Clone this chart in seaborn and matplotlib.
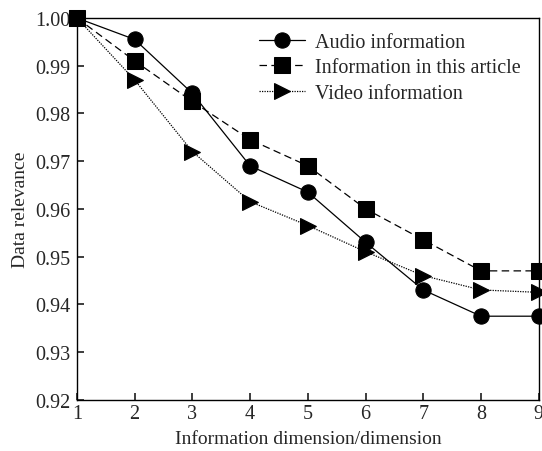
import pandas as pd
import matplotlib.pyplot as plt
import seaborn as sns

sns.set_theme(style="ticks")
plt.rcParams['font.family'] = ['Liberation Serif', 'DejaVu Serif']

# Data
dims = [1, 2, 3, 4, 5, 6, 7, 8, 9]
audio = [1.000, 0.9955, 0.9842, 0.969, 0.9635, 0.953, 0.943, 0.9375, 0.9375]
article = [1.000, 0.991, 0.9825, 0.9745, 0.969, 0.960, 0.9535, 0.947, 0.947]
video = [1.000, 0.987, 0.972, 0.9615, 0.9565, 0.951, 0.946, 0.943, 0.9425]
names = ['Audio information', 'Information in this article', 'Video information']
yticks = [0.92, 0.93, 0.94, 0.95, 0.96, 0.97, 0.98, 0.99, 1.00]

df = pd.DataFrame({
    'dim': dims * 3,
    'rel': audio + article + video,
    'series': [names[0]] * 9 + [names[1]] * 9 + [names[2]] * 9,
})

fig = plt.figure(figsize=(5.42, 4.52), dpi=100)
ax = fig.add_axes([0.142, 0.1135, 0.852, 0.8445])

sns.lineplot(data=df, x='dim', y='rel', hue='series', style='series',
             palette=['black'] * 3,
             markers={names[0]: 'o', names[1]: 's', names[2]: '>'},
             dashes={names[0]: '', names[1]: (6, 3.5), names[2]: (1, 1)},
             markersize=11, linewidth=0.9, markeredgecolor='black',
             clip_on=False, ax=ax)

ax.set_xlim(1, 9)
ax.set_ylim(0.92, 1.0)
ax.set_xticks(dims)
ax.set_yticks(yticks)
ax.set_yticklabels([f'{v:.2f}' for v in yticks])
ax.tick_params(axis='y', direction='in', length=5, labelsize=14.5, right=False, pad=5)
ax.tick_params(axis='x', direction='in', length=5, labelsize=14.5, top=False, pad=3)
for s in ax.spines.values():
    s.set_linewidth(1.0)
    s.set_color('black')
ax.set_xlabel('Information dimension/dimension', fontsize=14, labelpad=5)
ax.set_ylabel('Data relevance', fontsize=14)

leg = ax.legend(loc='upper left', bbox_to_anchor=(0.394, 0.960), fontsize=14.5,
                frameon=False, borderaxespad=0, borderpad=0,
                handlelength=2.3, labelspacing=0.3, handletextpad=0.5)

fig.savefig('out.png', dpi=100)
